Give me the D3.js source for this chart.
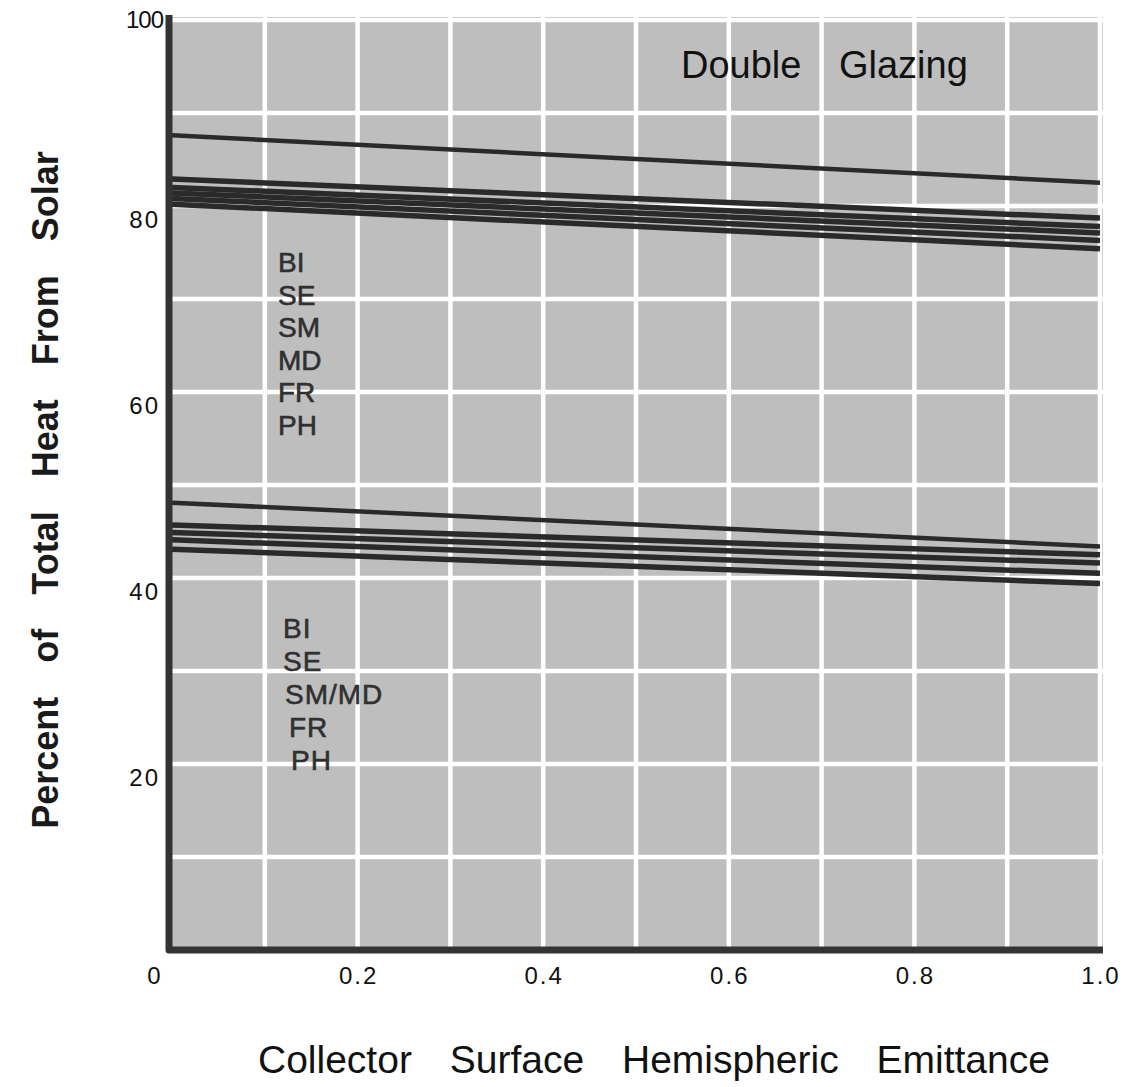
<!DOCTYPE html>
<html>
<head>
<meta charset="utf-8">
<script src="https://cdn.jsdelivr.net/npm/d3@7"></script>
<style>
  body { margin: 0; background: #fff; }
  svg { display: block; }
</style>
</head>
<body>
<svg id="chart" width="1130" height="1087"></svg>
<script>
// emittance points where the curves were read
var emit = [0, 1.0];

// double glazing, upper curves (6 cities)
var upperSeries = [
  [87.6, 82.5],
  [82.9, 78.7],
  [82.0, 77.8],
  [81.4, 77.1],
  [80.8, 76.3],
  [80.2, 75.4]
];
// lower curves (5 cities)
var lowerSeries = [
  [48.1, 43.4],
  [45.7, 42.5],
  [44.9, 41.6],
  [44.1, 40.5],
  [43.1, 39.4]
];

var upperLabels = ["BI", "SE", "SM", "MD", "FR", "PH"];
var lowerLabels = ["BI", "SE", "SM/MD", "FR", "PH"];

var xTicks = [0, 0.2, 0.4, 0.6, 0.8, 1.0];
var xTickText = ["0", "0.2", "0.4", "0.6", "0.8", "1.0"];
var yTicks = [20, 40, 60, 80, 100];

var svg = d3.select("#chart");

var x = d3.scaleLinear().domain([0, 1]).range([172, 1100]);
var y = d3.scaleLinear().domain([0, 100]).range([950, 20]);

var sans = "Liberation Sans, Arial, sans-serif";

// grey plot background
svg.append("rect")
  .attr("x", x(0) - 4).attr("y", y(100) - 3)
  .attr("width", x(1) - x(0) + 7).attr("height", y(0) - y(100) + 3)
  .attr("fill", "#bebebe");

// white grid every 0.1 / 10
var g = svg.append("g");
g.selectAll(".vg").data(d3.range(1, 11).map(function(d) { return d / 10; }))
  .enter().append("line")
  .attr("x1", function(d) { return x(d); }).attr("x2", function(d) { return x(d); })
  .attr("y1", y(100) - 3).attr("y2", y(0))
  .attr("stroke", "#fff").attr("stroke-width", 4.5);
g.selectAll(".hg").data(d3.range(10, 101, 10))
  .enter().append("line")
  .attr("y1", function(d) { return y(d); }).attr("y2", function(d) { return y(d); })
  .attr("x1", x(0)).attr("x2", x(1) + 3)
  .attr("stroke", "#fff").attr("stroke-width", 4.5);

// curves
var line = d3.line()
  .x(function(d, i) { return x(emit[i]); })
  .y(function(d) { return y(d); });

svg.selectAll(".curve").data(upperSeries.concat(lowerSeries))
  .enter().append("path")
  .attr("d", line)
  .attr("fill", "none")
  .attr("stroke", "#2a2a2a")
  .attr("stroke-width", function(d, i) { return (i === 0 || i === 6) ? 4.5 : 5.5; });

// axes lines (thick, dark)
svg.append("path")
  .attr("d", "M" + (x(0) - 3) + "," + (y(100) - 5) + "V" + y(0) + "H" + (x(1) + 3))
  .attr("fill", "none")
  .attr("stroke", "#333")
  .attr("stroke-width", 7)
  .attr("stroke-linejoin", "round");

// tick labels
svg.selectAll(".xt").data(xTicks)
  .enter().append("text")
  .attr("x", function(d) { return d === 0 ? x(d) - 17 : x(d) + 1; })
  .attr("y", 984)
  .attr("text-anchor", "middle")
  .attr("font-family", sans)
  .attr("font-size", 24)
  .attr("letter-spacing", 2)
  .attr("fill", "#111")
  .text(function(d, i) { return xTickText[i]; });

svg.selectAll(".yt").data(yTicks)
  .enter().append("text")
  .attr("x", function(d) { return d === 100 ? 163 : 160; })
  .attr("y", function(d) { return d === 100 ? y(d) + 8 : y(d) + 22; })
  .attr("text-anchor", "end")
  .attr("font-family", sans)
  .attr("font-size", 24)
  .attr("letter-spacing", function(d) { return d === 100 ? -1 : 2; })
  .attr("fill", "#111")
  .text(function(d) { return d; });

// city labels
svg.selectAll(".ul").data(upperLabels)
  .enter().append("text")
  .attr("x", 278)
  .attr("y", function(d, i) { return 272 + i * 32.6; })
  .attr("font-family", sans)
  .attr("font-size", 28)
  .attr("fill", "#303030")
  .attr("stroke", "#303030")
  .attr("stroke-width", 0.6)
  .text(function(d) { return d; });

var lowerX = [283, 283, 285, 289, 291];
svg.selectAll(".ll").data(lowerLabels)
  .enter().append("text")
  .attr("x", function(d, i) { return lowerX[i]; })
  .attr("y", function(d, i) { return 638 + i * 33; })
  .attr("font-family", sans)
  .attr("font-size", 28)
  .attr("letter-spacing", 1)
  .attr("fill", "#303030")
  .attr("stroke", "#303030")
  .attr("stroke-width", 0.6)
  .text(function(d) { return d; });

// titles
svg.append("text")
  .attr("x", 681).attr("y", 78)
  .attr("font-family", sans)
  .attr("font-size", 38)
  .attr("word-spacing", 27)
  .attr("fill", "#111")
  .text("Double Glazing");

svg.append("text")
  .attr("x", 258).attr("y", 1073)
  .attr("font-family", sans)
  .attr("font-size", 39)
  .attr("word-spacing", 27)
  .attr("fill", "#111")
  .text("Collector Surface Hemispheric Emittance");

svg.append("text")
  .attr("transform", "translate(58,490) rotate(-90)")
  .attr("text-anchor", "middle")
  .attr("font-family", sans)
  .attr("font-weight", "bold")
  .attr("font-size", 36)
  .attr("word-spacing", 24)
  .attr("fill", "#1a1a1a")
  .text("Percent of Total Heat From Solar");
</script>
</body>
</html>
